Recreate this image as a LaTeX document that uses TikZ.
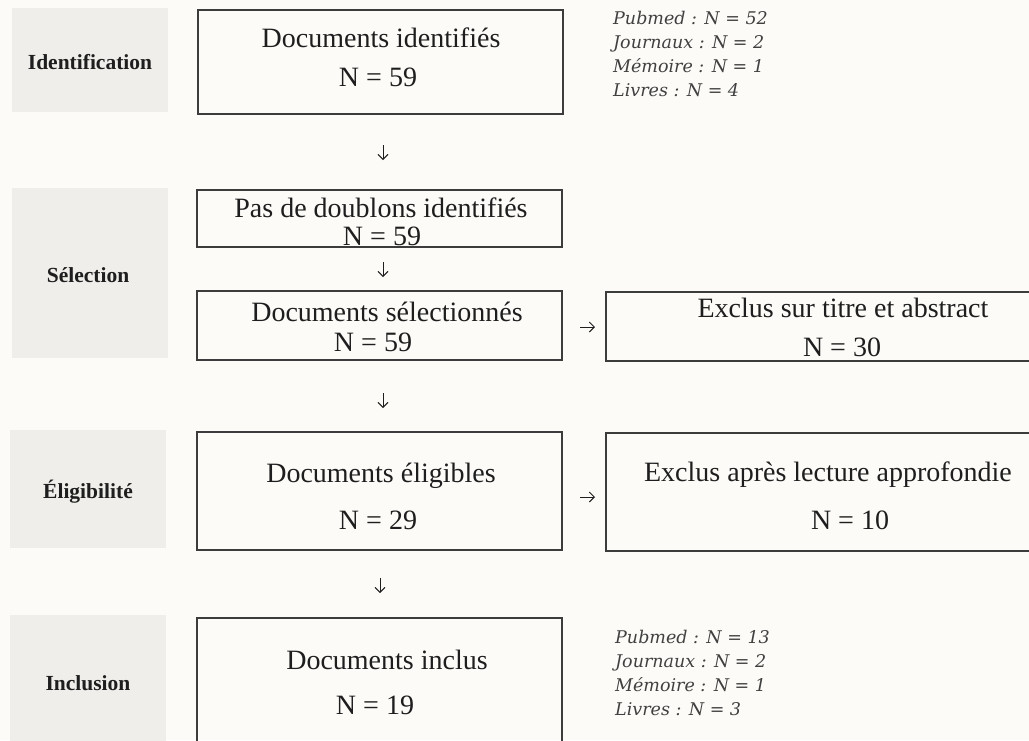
\documentclass[tikz,border=0pt]{standalone}
\usepackage{fontspec}
\setmainfont{Liberation Serif}
\newfontfamily\itfont{DejaVu Serif}
\usetikzlibrary{arrows.meta}
\definecolor{bgc}{HTML}{FCFBF8}
\definecolor{lblc}{HTML}{EFEEEB}
\definecolor{linec}{HTML}{3C3C3C}
\definecolor{txtc}{HTML}{1E1E1E}
\tikzset{
  stagebox/.style={fill=lblc, draw=none, minimum width=156pt, inner sep=0pt},
  stagetxt/.style={font=\fontsize{21.5}{26}\selectfont\bfseries, text=txtc, inner sep=0pt},
  flowbox/.style={draw=linec, line width=1.3pt, fill=none, inner sep=0pt},
  maintxt/.style={font=\fontsize{28}{33}\selectfont, text=txtc, inner sep=0pt},
  notetxt/.style={font=\itfont\itshape\fontsize{17.5}{24}\selectfont, text=txtc!85!white, inner sep=0pt, anchor=west, align=left},
  arr/.style={draw=txtc, line width=0.9pt, -{Straight Barb[length=5pt,width=10pt]}}
}
\begin{document}
\begin{tikzpicture}[x=1pt,y=-1pt]
\useasboundingbox (0,0) rectangle (1029,740);
\fill[bgc] (0,0) rectangle (1029,740);
\clip (0,0) rectangle (1029,740);
% stage labels
\node[stagebox, minimum height=104pt] (sIdent) at (90,60) {};
\node[stagebox, minimum height=170pt] (sSel) at (89.5,273) {};
\node[stagebox, minimum height=118pt] (sElig) at (88,489) {};
\node[stagebox, minimum height=150pt] (sIncl) at (88,690) {};
\node[stagetxt] (tIdent) at (90,62) {Identification};
\node[stagetxt] (tSel) at (88,275) {Sélection};
\node[stagetxt] (tElig) at (88,492) {Éligibilité};
\node[stagetxt] (tIncl) at (88,683) {Inclusion};
% flow boxes
\node[flowbox, minimum width=365pt, minimum height=104pt] (bIdent) at (380.5,62) {};
\node[flowbox, minimum width=365pt, minimum height=57pt] (bDoub) at (379.5,218.5) {};
\node[flowbox, minimum width=365pt, minimum height=69pt] (bSel) at (379.5,325.5) {};
\node[flowbox, minimum width=474pt, minimum height=69pt] (bEx1) at (843,326.5) {};
\node[flowbox, minimum width=365pt, minimum height=118pt] (bElig) at (379.5,491) {};
\node[flowbox, minimum width=444pt, minimum height=118pt] (bEx2) at (828,492) {};
\node[flowbox, minimum width=365pt, minimum height=162pt] (bIncl) at (379.5,699) {};
% texts
\node[maintxt] (t1a) at (381,38) {Documents identifiés};
\node[maintxt] (t1b) at (378,77) {N = 59};
\node[maintxt] (t2a) at (381,208) {Pas de doublons identifiés};
\node[maintxt] (t2b) at (382,236) {N = 59};
\node[maintxt] (t3a) at (387,312) {Documents sélectionnés};
\node[maintxt] (t3b) at (373,342) {N = 59};
\node[maintxt] (t4a) at (843,308) {Exclus sur titre et abstract};
\node[maintxt] (t4b) at (842,347) {N = 30};
\node[maintxt] (t5a) at (381,476) {Documents éligibles};
\node[maintxt] (t5b) at (378,520) {N = 29};
\node[maintxt] (t6a) at (828,475) {Exclus après lecture approfondie};
\node[maintxt] (t6b) at (850,520) {N = 10};
\node[maintxt] (t7a) at (387,660) {Documents inclus};
\node[maintxt] (t7b) at (375,705) {N = 19};
% notes
\node[notetxt] (n1) at (613,54) {Pubmed : N = 52\\Journaux : N = 2\\Mémoire : N = 1\\Livres : N = 4};
\node[notetxt] (n2) at (615,673) {Pubmed : N = 13\\Journaux : N = 2\\Mémoire : N = 1\\Livres : N = 3};
% arrows
\coordinate (a1s) at (383,145); \coordinate (a1e) at (383,160);
\coordinate (a2s) at (383,262); \coordinate (a2e) at (383,277);
\coordinate (a3s) at (383,393); \coordinate (a3e) at (383,408);
\coordinate (a4s) at (380,578); \coordinate (a4e) at (380,593);
\coordinate (a5s) at (580,327); \coordinate (a5e) at (595,327);
\coordinate (a6s) at (580,497); \coordinate (a6e) at (595,497);
\draw[arr] (a1s) -- (a1e);
\draw[arr] (a2s) -- (a2e);
\draw[arr] (a3s) -- (a3e);
\draw[arr] (a4s) -- (a4e);
\draw[arr] (a5s) -- (a5e);
\draw[arr] (a6s) -- (a6e);
\end{tikzpicture}
\end{document}
